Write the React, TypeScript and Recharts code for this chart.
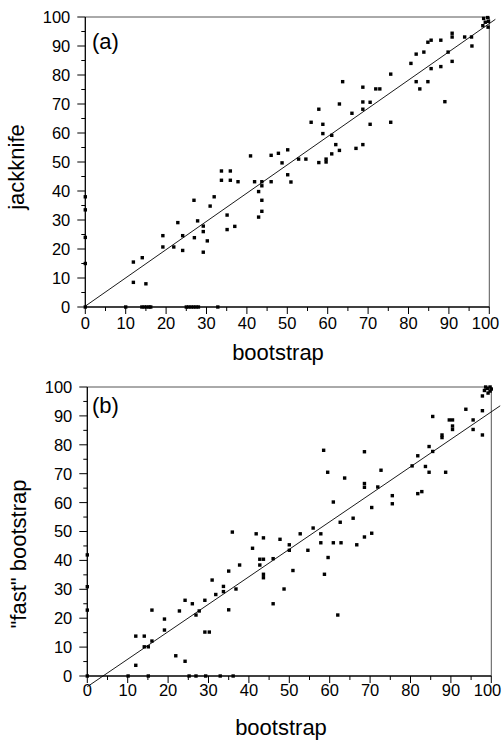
import React from 'react';
import { ScatterChart, Scatter, XAxis, YAxis, ReferenceLine } from 'recharts';

// tick values
const majorTicks = [0, 10, 20, 30, 40, 50, 60, 70, 80, 90, 100];
const minorTicks = [5, 15, 25, 35, 45, 55, 65, 75, 85, 95];
const allTicks = [...majorTicks, ...minorTicks].sort((a, b) => a - b);

// panel (a): [bootstrap, jackknife]
const jackknifePoints: [number, number][] = [
  [0, 0], [0, 15], [0, 24], [0, 33.5], [0, 38],
  [10, 0], [14, 0], [14.6, 0], [15.2, 0], [15.8, 0], [16.2, 0], [25, 0], [25.6, 0], [26.2, 0], [26.8, 0], [27.4, 0], [28, 0], [32.8, 0],
  [11.9, 15.5], [11.9, 8.5], [14.1, 17], [15, 8],
  [19.2, 24.6], [19.2, 20.7], [21.9, 20.7], [22.9, 29.1], [24.1, 24.6], [24.1, 19.5],
  [26.9, 36.8], [27, 23.9], [27.8, 29.7], [29.2, 27.9], [29.2, 26], [29.2, 18.9], [30.2, 22.8], [30.9, 34.8], [31.9, 38],
  [33.7, 46.9], [33.7, 43.7], [35.9, 46.9], [35.9, 43.7], [35.1, 31.7], [35.1, 26.7], [37, 27.8], [37.8, 43.2],
  [40.9, 52.1], [41.9, 43.2], [42.9, 39.8], [42.9, 31], [43.7, 43.2], [43.7, 41.8], [43.7, 36.8], [43.7, 33], [46, 43.2],
  [46, 52.3], [47.8, 53], [48.7, 49.7], [50.1, 54.2], [50.1, 45.6], [50.9, 43.1],
  [52.8, 51], [54.6, 51], [55.9, 63.7], [57.8, 68.2], [57.8, 49.8], [58.8, 63], [58.8, 59.8], [59.6, 51], [59.6, 50], [61, 59.2], [61, 52.8], [62, 56], [62.9, 54], [62.9, 70], [63.7, 77.7],
  [66, 66.8], [67, 54.7], [68.7, 75.8], [68.7, 70.7], [68.7, 68.2], [68.7, 56], [70.5, 70.6], [70.5, 63], [71.9, 75.2], [72.9, 75.2],
  [75.6, 80.3], [75.6, 63.7], [80.6, 84], [81.9, 87.2], [81.9, 77.7], [82.8, 75.2], [83.8, 87.9], [84.8, 91.3], [85.6, 92], [84.8, 77.7], [85.6, 82.2],
  [88, 92], [88, 82.9], [89, 70.8], [89.8, 87.9], [90.8, 94.4], [90.8, 93.1], [90.8, 84.7], [93.9, 93.1], [95.6, 93.1], [95.7, 90],
  [98.4, 97], [99, 98.2], [99.7, 96.5], [98.6, 99.5], [99.6, 99.8], [99.8, 98.5],
];

// panel (b): [bootstrap, "fast" bootstrap]
const fastPoints: [number, number][] = [
  [0, 0], [0, 22.8], [0, 30.9], [0, 41.9],
  [10.1, 0], [15.1, 0], [25.2, 0], [26.9, 0], [29.3, 0], [32.9, 0], [36.1, 0],
  [12, 13.8], [12, 3.7], [14.1, 13.8], [14.1, 10.1], [15.1, 10.1], [16, 22.8], [16, 12.1], [19.1, 19.7], [19.1, 15.9], [21.9, 7], [22.8, 22.5], [24.2, 5.1], [24.2, 26.2], [26, 25], [26.9, 21.1], [27.7, 22.5], [29.1, 26.2], [29.1, 15.2], [30.2, 15.2], [30.9, 33.2], [31.8, 28.2], [33.7, 31], [33.7, 29.2], [35, 36.3], [35, 22.9], [36.8, 30.1], [37.7, 38.4],
  [35.9, 49.8], [40.9, 44.2], [41.8, 49.2], [43.6, 47.8], [42.7, 40.4], [43.6, 40.4], [42.7, 38.4], [43.6, 35.2], [43.6, 34], [46, 40.6], [46, 25], [47.7, 47.3], [48.7, 30.1], [50, 45.4], [50, 43.5], [50.9, 36.5],
  [52.7, 49.2], [54.6, 43.5], [55.9, 51.2], [57.8, 49.2], [57.8, 46.1], [58.5, 78.1], [58.7, 35.2], [59.5, 70.5], [59.6, 41], [60.9, 60.2], [60.9, 46.1], [62, 21.1], [62.6, 53.2], [62.8, 46.1], [63.7, 68.5], [65.8, 54.6], [66.7, 45.4], [68.6, 77.6], [68.6, 66.6], [68.6, 65.3], [68.6, 48.1], [70.4, 58.3], [70.4, 49.4], [71.9, 65.4], [72.7, 71.2], [75.5, 62.4], [75.5, 59.6],
  [80.4, 72.7], [81.8, 76.2], [81.8, 63.1], [82.8, 63.8], [83.7, 72.5], [84.6, 79.4], [84.6, 70.5], [85.5, 77.7], [85.5, 89.8], [87.8, 83.4], [87.8, 82.5], [88.7, 70.5], [89.6, 88.6], [90.4, 88.6], [90.4, 86.5], [90.4, 85.3], [93.7, 92.3], [95.5, 88.6], [95.5, 85.3], [97.8, 83.4], [97.8, 91.8], [97.8, 96.9],
  [98.3, 98.8], [99, 99.5], [99.7, 100], [99.7, 98.6], [100, 99.3], [98.6, 100], [99.2, 97.9],
];

// fitted lines (endpoints)
const lineA = [{ x: 0, y: 0.3 }, { x: 101.5, y: 99.2 }];
const lineB = [{ x: 0, y: -3.7 }, { x: 102.2, y: 93.5 }];

const FONT = '"Liberation Sans", Arial, Helvetica, sans-serif';
const TICK_FONT = 16.5;

const toData = (pts: [number, number][]) => pts.map(([x, y]) => ({ x, y }));

const Square = (props: any) => {
  const { cx, cy } = props;
  if (cx == null || cy == null) return null;
  return <rect x={cx - 1.7} y={cy - 1.7} width={3.4} height={3.4} fill="#000" />;
};

const makeXTick = (labelOffset: number) => (props: any) => {
  const { x, y, payload } = props;
  const v = payload.value;
  const major = v % 10 === 0;
  const last = v === 100;
  return (
    <g>
      <line x1={x} x2={x} y1={y} y2={y + (major ? 7 : 4)} stroke="#000" strokeWidth={1} />
      {major && (
        <text
          x={last ? x + 10 : x}
          y={y + labelOffset}
          textAnchor={last ? 'end' : 'middle'}
          fontFamily={FONT}
          fontSize={TICK_FONT}
          fill="#000"
        >
          {v}
        </text>
      )}
    </g>
  );
};

const YTick = (props: any) => {
  const { x, y, payload } = props;
  const v = payload.value;
  const major = v % 10 === 0;
  return (
    <g>
      <line x1={x - (major ? 8 : 4)} x2={x} y1={y} y2={y} stroke="#000" strokeWidth={1} />
      {major && (
        <text x={x - 15} y={y} dy="0.36em" textAnchor="end" fontFamily={FONT} fontSize={TICK_FONT} fill="#000">
          {v}
        </text>
      )}
    </g>
  );
};

type PanelProps = {
  top: number;
  height: number;
  margin: { top: number; right: number; bottom: number; left: number };
  data: { x: number; y: number }[];
  line: { x: number; y: number }[];
  labelOffset: number;
};

const Panel = ({ top, height, margin, data, line, labelOffset }: PanelProps) => (
  <div style={{ position: 'absolute', left: 0, top, width: 503, height }}>
    <ScatterChart width={503} height={height} margin={margin}>
      <XAxis
        type="number"
        dataKey="x"
        domain={[0, 100]}
        ticks={allTicks}
        interval={0}
        tickSize={0}
        tickMargin={0}
        tickLine={false}
        tick={makeXTick(labelOffset)}
        height={30}
        axisLine={{ stroke: '#000', strokeWidth: 1.3 }}
      />
      <YAxis
        type="number"
        dataKey="y"
        domain={[0, 100]}
        ticks={allTicks}
        interval={0}
        tickSize={0}
        tickMargin={0}
        tickLine={false}
        tick={YTick}
        width={40}
        axisLine={{ stroke: '#000', strokeWidth: 1.3 }}
      />
      <ReferenceLine y={100} stroke="#555" strokeWidth={1} />
      <ReferenceLine x={100} stroke="#555" strokeWidth={1} />
      <ReferenceLine segment={line} stroke="#000" strokeWidth={0.9} ifOverflow="visible" />
      <Scatter data={data} shape={Square} isAnimationActive={false} />
    </ScatterChart>
  </div>
);

export default function App() {
  return (
    <div style={{ position: 'absolute', left: 0, top: 0, width: 503, height: 741, background: '#fff' }}>
      <Panel
        top={0}
        height={370}
        margin={{ top: 17, right: 13.7, bottom: 33, left: 45.3 }}
        data={toData(jackknifePoints)}
        line={lineA}
        labelOffset={22}
      />
      <Panel
        top={370}
        height={371}
        margin={{ top: 17, right: 11.7, bottom: 35, left: 47.3 }}
        data={toData(fastPoints)}
        line={lineB}
        labelOffset={20}
      />
      <svg
        width={503}
        height={741}
        style={{ position: 'absolute', left: 0, top: 0, pointerEvents: 'none' }}
      >
        <g fontFamily={FONT} fill="#000">
          <text x={92} y={49} fontSize={22}>(a)</text>
          <text x={92} y={413} fontSize={22}>(b)</text>
          <text x={278} y={360} fontSize={22} textAnchor="middle">bootstrap</text>
          <text x={281} y={735} fontSize={22} textAnchor="middle">bootstrap</text>
          <text transform="translate(24,167) rotate(-90)" fontSize={22} textAnchor="middle">jackknife</text>
          <text transform="translate(26,554) rotate(-90)" fontSize={22} textAnchor="middle">"fast" bootstrap</text>
        </g>
      </svg>
    </div>
  );
}
